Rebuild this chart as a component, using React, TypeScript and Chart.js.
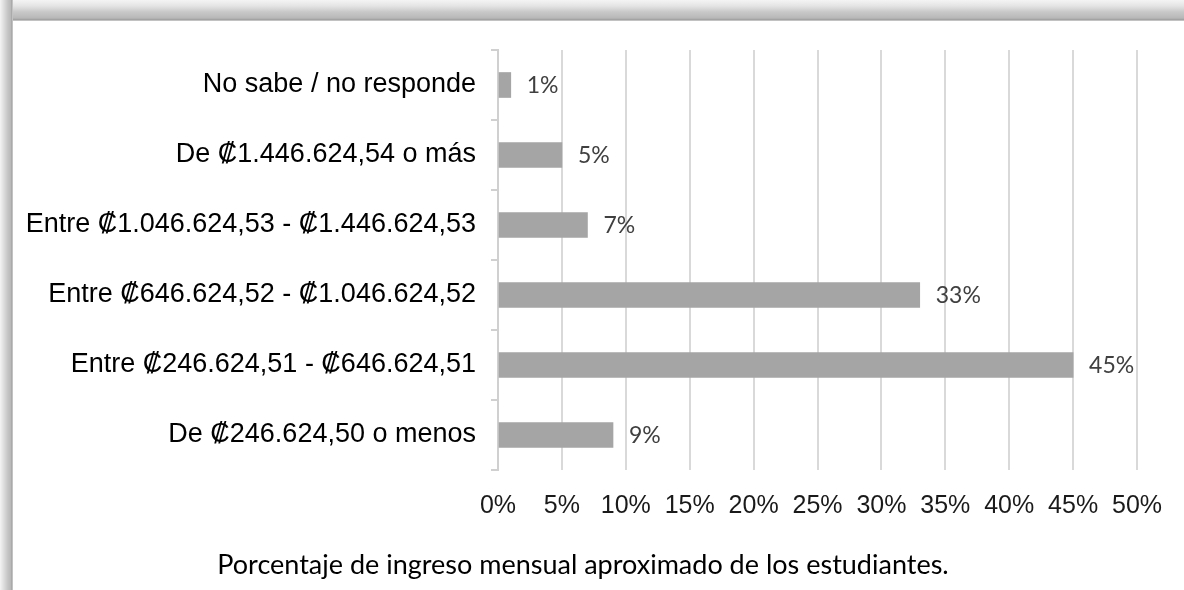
import React, { useEffect, useRef } from "react";
import { Chart, registerables } from "chart.js";

Chart.register(...registerables);

const categories: string[] = [
  "No sabe / no responde",
  "De ₡1.446.624,54 o más",
  "Entre ₡1.046.624,53 - ₡1.446.624,53",
  "Entre ₡646.624,52 - ₡1.046.624,52",
  "Entre ₡246.624,51 - ₡646.624,51",
  "De ₡246.624,50 o menos",
];
const percentages: number[] = [1, 5, 7, 33, 45, 9];
const titleText = "Porcentaje de ingreso mensual aproximado de los estudiantes.";

const ARIAL = "'Liberation Sans', Arial, sans-serif";
const CALIBRI = "Lato, 'Open Sans', sans-serif";

const dataLabelPlugin = {
  id: "dataLabels",
  afterDatasetsDraw(chart: any) {
    const { ctx } = chart;
    const meta = chart.getDatasetMeta(0);
    ctx.save();
    ctx.font = `23px ${CALIBRI}`;
    ctx.fillStyle = "#404040";
    ctx.textAlign = "left";
    ctx.textBaseline = "middle";
    meta.data.forEach((bar: any, i: number) => {
      ctx.fillText(`${percentages[i]}%`, bar.x + 16, bar.y + 1);
    });
    ctx.restore();
  },
};

const bottomTitlePlugin = {
  id: "bottomTitle",
  afterDraw(chart: any) {
    const { ctx } = chart;
    ctx.save();
    ctx.font = `27px ${CALIBRI}`;
    ctx.fillStyle = "#000000";
    ctx.textAlign = "center";
    ctx.textBaseline = "alphabetic";
    ctx.fillText(titleText, 583, 574);
    ctx.restore();
  },
};

export default function App() {
  const canvasRef = useRef<HTMLCanvasElement | null>(null);

  useEffect(() => {
    if (!canvasRef.current) return;
    const chart = new Chart(canvasRef.current, {
      type: "bar",
      data: {
        labels: categories,
        datasets: [
          {
            data: percentages,
            backgroundColor: "#a5a5a5",
            borderWidth: 0,
            barThickness: 25,
          },
        ],
      },
      options: {
        indexAxis: "y",
        animation: false,
        responsive: false,
        maintainAspectRatio: false,
        layout: { padding: { top: 50, right: 47, bottom: 44, left: 0 } },
        plugins: {
          legend: { display: false },
          tooltip: { enabled: false },
          title: { display: false },
        },
        scales: {
          x: {
            min: 0,
            max: 50,
            ticks: {
              stepSize: 5,
              callback: (v: any) => `${v}%`,
              color: "#1a1a1a",
              font: { family: ARIAL, size: 25 },
              padding: 21,
              maxRotation: 0,
              autoSkip: false,
            },
            grid: {
              color: "#d9d9d9",
              lineWidth: 2,
              drawTicks: false,
            },
            border: { display: false },
            afterFit: (scale: any) => {
              scale.height = 76;
            },
          },
          y: {
            ticks: {
              color: "#000000",
              font: { family: ARIAL, size: 27 },
              padding: 15,
            },
            grid: {
              drawOnChartArea: false,
              drawTicks: true,
              tickLength: 7,
              color: "#d0d0d0",
              lineWidth: 2,
            },
            border: { display: true, color: "#d0d0d0", width: 2 },
            afterFit: (scale: any) => {
              scale.width = 498;
            },
          },
        },
      },
      plugins: [dataLabelPlugin, bottomTitlePlugin],
    });
    return () => chart.destroy();
  }, []);

  return (
    <div
      style={{
        position: "fixed",
        top: 0,
        left: 0,
        width: 1184,
        height: 590,
        background: "#ffffff",
        overflow: "hidden",
      }}
    >
      <div
        style={{
          position: "absolute",
          top: 0,
          left: 0,
          width: 1184,
          height: 21,
          background:
            "linear-gradient(to bottom, #f4f4f4 0px, #e4e4e4 6px, #c8c8c8 12px, #b8b8b8 18px, #9c9c9c 20px, #e8e8e8 21px)",
        }}
      />
      <div
        style={{
          position: "absolute",
          top: 0,
          left: 0,
          width: 13,
          height: 590,
          background:
            "linear-gradient(to right, #f4f4f4 0px, #dcdcdc 4px, #c4c4c4 8px, #b8b8b8 11px, #9c9c9c 12px, #e8e8e8 13px)",
        }}
      />
      <canvas
        ref={canvasRef}
        width={1184}
        height={590}
        style={{ position: "absolute", top: 0, left: 0, width: 1184, height: 590 }}
      />
    </div>
  );
}
